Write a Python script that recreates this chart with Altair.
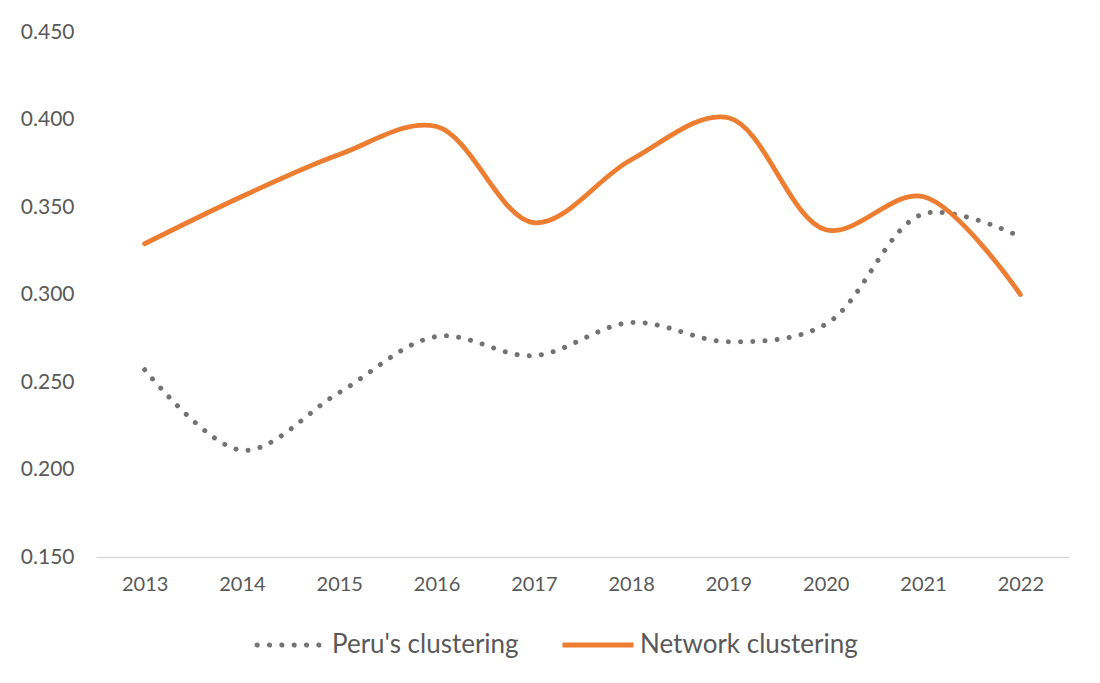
import altair as alt
import pandas as pd

years = ["2013", "2014", "2015", "2016", "2017", "2018", "2019", "2020", "2021", "2022"]
peru = [0.257, 0.211, 0.244, 0.276, 0.265, 0.284, 0.273, 0.283, 0.346, 0.333]
network = [0.329, 0.356, 0.380, 0.396, 0.341, 0.377, 0.401, 0.337, 0.356, 0.300]
series_names = ["Peru's clustering", "Network clustering"]
series_colors = ["#767171", "#ED7D31"]
y_ticks = [0.15, 0.2, 0.25, 0.3, 0.35, 0.4, 0.45]

df_peru = pd.DataFrame({"year": years, "value": peru, "series": series_names[0], "order": range(len(years))})
df_net = pd.DataFrame({"year": years, "value": network, "series": series_names[1], "order": range(len(years))})

FONT = "Lato"
TXT = "#595959"

# six small dots in a row, drawn inside the unit square of a legend symbol
r = 0.035
centers = [-0.93 + i * (1.86 / 5) for i in range(6)]
dots_path = " ".join(
    f"M{c - r:.4f},0 a{r},{r} 0 1,0 {2 * r},0 a{r},{r} 0 1,0 {-2 * r},0" for c in centers
)

x_enc = alt.X("year:O", sort=years, title=None,
              scale=alt.Scale(type="point", padding=0.5),
              axis=alt.Axis(labelAngle=0, ticks=False, domain=True, domainColor="#D9D9D9",
                            domainWidth=1.5, grid=False, labelPadding=17, labelFontSize=20))
y_enc = alt.Y("value:Q", title=None,
              scale=alt.Scale(domain=[0.15, 0.45], nice=False, zero=False),
              axis=alt.Axis(values=y_ticks, format=".3f", ticks=False, domain=False, grid=False,
                            labelPadding=22, labelFontSize=21))

peru_line = alt.Chart(df_peru).mark_line(
    interpolate="catmull-rom", strokeWidth=5, strokeCap="round", strokeDash=[0.01, 12.2]
).encode(
    x=x_enc, y=y_enc, order="order:Q",
    color=alt.Color("series:N", title=None,
                    scale=alt.Scale(domain=[series_names[0]], range=[series_colors[0]]),
                    legend=alt.Legend(orient="none", legendX=157, legendY=578,
                                      symbolType=dots_path, symbolSize=4400, symbolStrokeWidth=2.8,
                                      labelFont=FONT, labelFontSize=26, labelColor=TXT,
                                      labelOffset=9, labelLimit=400)),
)

net_line = alt.Chart(df_net).mark_line(
    interpolate="catmull-rom", strokeWidth=4.8, strokeCap="round", strokeJoin="round"
).encode(
    x=x_enc, y=y_enc, order="order:Q",
    color=alt.Color("series:N", title=None,
                    scale=alt.Scale(domain=[series_names[1]], range=[series_colors[1]]),
                    legend=alt.Legend(orient="none", legendX=464, legendY=575,
                                      symbolType="stroke", symbolSize=5041, symbolStrokeWidth=5,
                                      labelFont=FONT, labelFontSize=26, labelColor=TXT,
                                      labelOffset=4, labelLimit=400)),
)

chart = alt.layer(peru_line, net_line).resolve_scale(color="independent").properties(
    width=973, height=525,
    autosize=alt.AutoSizeParams(type="none"),
    padding={"left": 88, "top": 24, "right": 20, "bottom": 118},
    background="white",
).configure_view(stroke=None).configure_axis(
    labelFont=FONT, labelColor=TXT
)

chart.save("out.html", embed_options={"renderer": "svg", "actions": False})
